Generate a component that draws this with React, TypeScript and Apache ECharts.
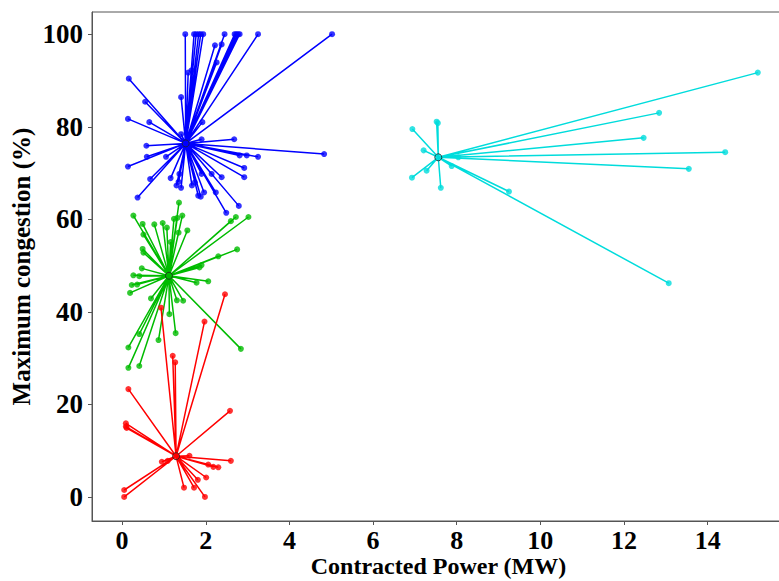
import React, { useEffect, useRef } from "react";
import * as echarts from "echarts";

// Cluster centroids [x (MW), y (%)]
const blueCenter = [1.52, 76.4];
const greenCenter = [1.12, 47.8];
const redCenter = [1.29, 8.8];
const cyanCenter = [7.56, 73.4];

// Cluster members
const blueX = [1.51, 1.72, 1.77, 1.83, 1.88, 1.94, 2.45, 2.69, 2.73, 2.77, 2.81, 3.25, 5.02,
  2.22, 2.38, 1.58, 1.66, 2.26, 0.16, 1.41, 0.55, 0.14, 0.65, 1.92, 1.41, 2.68, 1.90, 0.58, 4.83,
  3.25, 2.98, 2.81, 0.59, 1.05, 0.14, 2.92, 2.92, 2.38, 0.67, 1.16, 1.37, 1.35, 1.30, 1.41, 1.67,
  1.74, 1.90, 2.14, 1.82, 1.88, 1.96, 2.24, 0.37, 2.79, 2.49];
const blueY = [100, 100, 100, 100, 100, 100, 100, 100, 100, 100, 100, 100, 100,
  97.6, 97.8, 91.7, 92.2, 93.9, 90.4, 86.4, 85.4, 81.7, 81.0, 81.0, 78.4, 77.3, 77.3, 75.9, 74.1,
  73.5, 73.8, 73.8, 73.5, 73.5, 71.4, 71.1, 69.1, 69.1, 68.7, 68.9, 69.8, 68.1, 67.3, 66.8, 67.3,
  68.0, 69.8, 69.8, 65.1, 64.9, 65.8, 65.8, 64.7, 62.9, 61.4];

const greenX = [1.36, 0.27, 1.44, 2.72, 3.02, 2.60, 0.49, 0.77, 0.97, 1.24, 1.32, 1.07, 0.51, 1.56,
  1.35, 1.16, 0.49, 0.51, 2.75, 2.30, 1.90, 1.85, 0.47, 0.27, 0.41, 0.23, 0.19, 0.36, 2.06, 1.78,
  0.69, 1.31, 1.46, 1.13, 1.28, 0.41, 0.87, 0.15, 2.84, 0.15, 0.41];
const greenY = [63.6, 60.8, 60.8, 60.5, 60.5, 59.6, 59.0, 58.9, 59.2, 60.1, 60.3, 58.2, 56.7, 57.6,
  57.1, 55.1, 53.6, 52.8, 53.5, 52.0, 50.1, 49.6, 49.4, 47.9, 47.7, 45.8, 44.1, 45.9, 46.6, 46.3,
  42.9, 42.5, 42.4, 39.5, 35.4, 35.2, 33.9, 32.3, 32.0, 27.9, 28.3];

const redX = [0.93, 2.46, 1.97, 1.21, 1.27, 0.15, 2.58, 0.09, 0.09, 0.11, 2.60, 2.30, 2.18, 2.06,
  1.61, 1.09, 0.95, 2.01, 1.81, 1.72, 1.48, 1.98, 0.05, 0.05];
const redY = [40.9, 43.8, 37.9, 30.5, 29.1, 23.3, 18.6, 15.9, 15.2, 14.9, 7.8, 6.4, 6.5, 7.0,
  8.9, 7.8, 7.6, 4.2, 3.7, 2.0, 2.0, 0.0, 1.5, 0.0];

const cyanX = [15.2, 12.84, 12.47, 14.42, 13.55, 13.07, 9.25, 7.52, 7.55, 6.94, 7.21, 6.93, 7.28,
  7.62, 7.88, 8.04];
const cyanY = [91.7, 83.0, 77.6, 74.5, 70.9, 46.2, 66.0, 81.1, 80.8, 79.5, 74.9, 69.0, 70.5,
  66.8, 71.5, 73.4];

const xTicks = [0, 2, 4, 6, 8, 10, 12, 14];
const yTicks = [0, 20, 40, 60, 80, 100];

const clusters = [
  { name: "blue", color: "#0000ff", center: blueCenter, xs: blueX, ys: blueY },
  { name: "green", color: "#00bb00", center: greenCenter, xs: greenX, ys: greenY },
  { name: "red", color: "#ff0000", center: redCenter, xs: redX, ys: redY },
  { name: "cyan", color: "#00dcdc", center: cyanCenter, xs: cyanX, ys: cyanY },
];

const FONT = "'Liberation Serif', 'Times New Roman', serif";

export default function App() {
  const ref = useRef<HTMLDivElement>(null);
  useEffect(() => {
    if (!ref.current) return;
    const chart = echarts.init(ref.current, undefined, { renderer: "svg" });
    const series: any[] = [];
    clusters.forEach((c) => {
      const starData: any[] = [];
      c.xs.forEach((x, i) => {
        starData.push([c.center[0], c.center[1]]);
        starData.push([x, c.ys[i]]);
      });
      starData.push([c.center[0], c.center[1]]);
      series.push({
        type: "line",
        name: c.name,
        data: starData,
        symbol: "none",
        lineStyle: { color: c.color, width: 1.5 },
        z: 2,
      });
      series.push({
        type: "scatter",
        name: c.name + "-pts",
        data: c.xs.map((x, i) => [x, c.ys[i]]),
        symbol: "circle",
        symbolSize: 6,
        itemStyle: { color: c.color },
        z: 3,
      });
      series.push({
        type: "scatter",
        name: c.name + "-center",
        data: [[c.center[0], c.center[1]]],
        symbol: "circle",
        symbolSize: 7,
        itemStyle: { color: c.color, borderColor: "#222", borderWidth: 1 },
        z: 4,
      });
    });

    chart.setOption({
      animation: false,
      grid: {
        left: 92,
        top: 12,
        width: 693,
        height: 509,
        outerBoundsMode: "none",
        containLabel: false,
        show: true,
        borderColor: "#555",
        borderWidth: 1,
        backgroundColor: "transparent",
      },
      xAxis: {
        type: "value",
        min: -0.72,
        max: 15.85,
        name: "Contracted Power (MW)",
        nameLocation: "middle",
        nameGap: 33,
        nameMoveOverlap: false,
        nameTextStyle: { fontFamily: FONT, fontWeight: "bold", fontSize: 24, lineHeight: 24, color: "#000" },
        axisLine: { show: true, onZero: false, lineStyle: { color: "#555", width: 1 } },
        axisTick: { show: true, inside: false, length: 4, customValues: xTicks, lineStyle: { color: "#555" } },
        axisLabel: {
          customValues: xTicks,
          margin: 6,
          lineHeight: 26,
          fontFamily: FONT,
          fontWeight: "bold",
          fontSize: 26,
          color: "#000",
        },
        splitLine: { show: false },
      },
      yAxis: {
        type: "value",
        min: -5.2,
        max: 104.8,
        name: "Maximum congestion (%)",
        nameLocation: "middle",
        nameGap: 58,
        nameMoveOverlap: false,
        nameTextStyle: { fontFamily: FONT, fontWeight: "bold", fontSize: 25, color: "#000" },
        axisLine: { show: true, onZero: false, lineStyle: { color: "#555", width: 1 } },
        axisTick: { show: true, inside: false, length: 4, customValues: yTicks, lineStyle: { color: "#555" } },
        axisLabel: {
          customValues: yTicks,
          margin: 9,
          fontFamily: FONT,
          fontWeight: "bold",
          fontSize: 27,
          color: "#000",
        },
        splitLine: { show: false },
      },
      series,
    });
    return () => chart.dispose();
  }, []);
  return (
    <div
      ref={ref}
      style={{ position: "fixed", left: 0, top: 0, width: 779, height: 581, background: "#fff" }}
    />
  );
}
